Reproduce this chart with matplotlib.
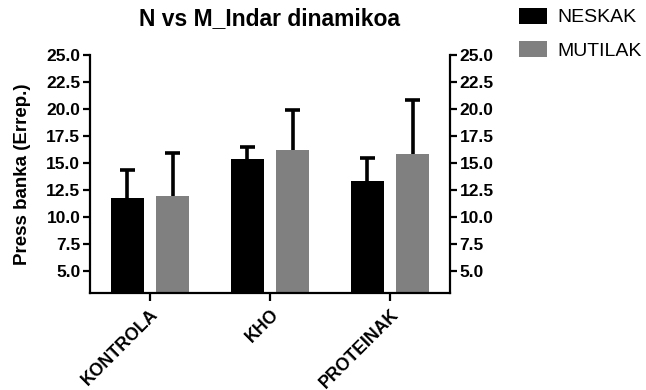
import numpy as np
import matplotlib.pyplot as plt

plt.rcParams['font.family'] = ['Liberation Sans', 'DejaVu Sans']

categories = ['KONTROLA', 'KHO', 'PROTEINAK']
series_names = ['NESKAK', 'MUTILAK']
neskak = [11.8, 15.35, 13.3]
neskak_err = [2.55, 1.15, 2.2]
mutilak = [11.95, 16.2, 15.85]
mutilak_err = [3.95, 3.7, 5.0]
yticks = [5.0, 7.5, 10.0, 12.5, 15.0, 17.5, 20.0, 22.5, 25.0]

fig = plt.figure(figsize=(6.46, 3.90), dpi=100)
ax = fig.add_axes([0.1393, 0.248, 0.5573, 0.610])

x = np.arange(len(categories))
w = 0.275
off = 0.188
cap = 0.06
colors = ['#000000', '#808080']
for vals, errs, sgn, col, name in [(neskak, neskak_err, -1, colors[0], series_names[0]),
                                   (mutilak, mutilak_err, 1, colors[1], series_names[1])]:
    xp = x + sgn * off
    vals = np.array(vals)
    top = vals + np.array(errs)
    ax.bar(xp, vals, width=w, color=col, label=name, zorder=2)
    # upper error bar only, as in Prism
    ax.vlines(xp, vals, top, color='black', linewidth=2.6, zorder=3)
    ax.hlines(top, xp - cap, xp + cap, color='black', linewidth=2.6, zorder=3)

ax.set_xlim(-0.5, 2.5)
ax.set_ylim(2.93, 25)
ax.set_yticks(yticks)
ax.set_yticklabels(['%.1f' % v for v in yticks])
ax.set_xticks(x)
ax.set_xticklabels(categories, rotation=45, ha='right', rotation_mode='anchor',
                   fontsize=12.8, fontweight='bold')

ax.spines['top'].set_visible(False)
for s in ['left', 'right', 'bottom']:
    ax.spines[s].set_linewidth(1.6)
ax.tick_params(axis='y', which='both', left=True, right=True, labelleft=True, labelright=True,
               length=5, width=1.6, labelsize=12.5, pad=2)
ax.tick_params(axis='x', length=6, width=1.6, pad=3)
for lab in ax.get_yticklabels():
    lab.set_fontweight('bold')

ax.set_ylabel('Press banka (Errep.)', fontsize=13.5, fontweight='bold', labelpad=11)
ax.set_title('N vs M_Indar dinamikoa', fontsize=16.5, fontweight='bold', pad=22)

ax.legend(loc='upper left', bbox_to_anchor=(519 / 646, 1 - 8 / 390), bbox_transform=fig.transFigure,
          frameon=False, fontsize=14, borderpad=0, borderaxespad=0,
          handlelength=1.45, handleheight=0.85, handletextpad=0.5, labelspacing=0.75)

fig.savefig('out.png', dpi=100)
